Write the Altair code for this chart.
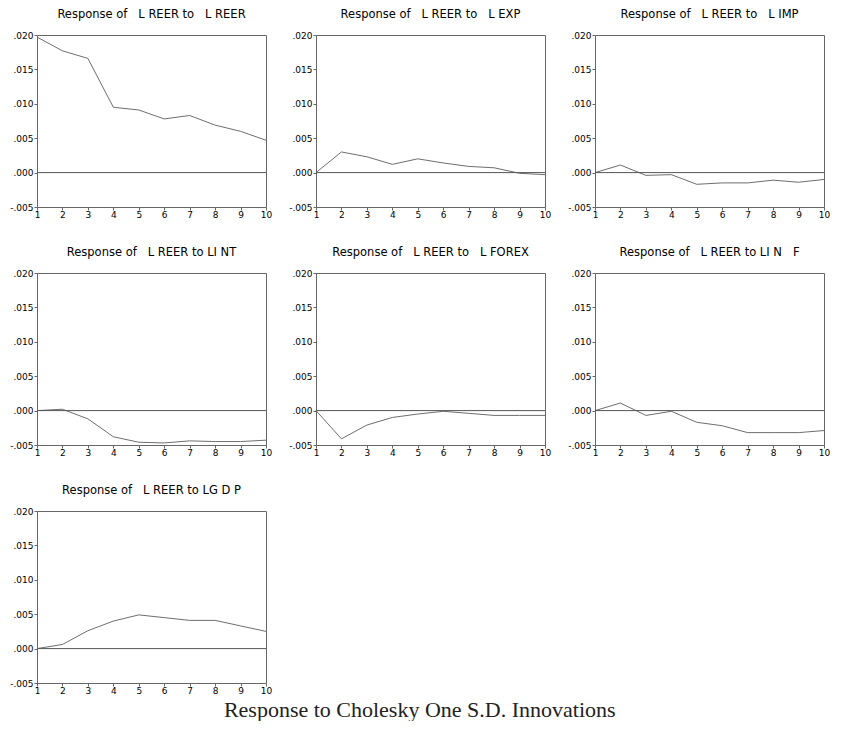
import altair as alt
import pandas as pd

PERIODS = [1, 2, 3, 4, 5, 6, 7, 8, 9, 10]

TITLES = [
    "Response of\u00a0\u00a0 L REER to\u00a0\u00a0 L REER",
    "Response of\u00a0\u00a0 L REER to\u00a0\u00a0 L EXP",
    "Response of\u00a0\u00a0 L REER to\u00a0\u00a0 L IMP",
    "Response of\u00a0\u00a0 L REER to LI NT",
    "Response of\u00a0\u00a0 L REER to\u00a0\u00a0 L FOREX",
    "Response of\u00a0\u00a0 L REER to LI N\u00a0\u00a0 F",
    "Response of\u00a0\u00a0 L REER to LG D P",
]

resp_lreer = [0.0197, 0.0177, 0.0166, 0.0095, 0.0091, 0.0078, 0.0083, 0.0069, 0.0060, 0.0047]
resp_lexp = [0.0, 0.0030, 0.0023, 0.0012, 0.0020, 0.0014, 0.0009, 0.0007, -0.0001, -0.0003]
resp_limp = [0.0, 0.0011, -0.0004, -0.0003, -0.0017, -0.0015, -0.0015, -0.0011, -0.0014, -0.0010]
resp_lint = [0.0, 0.0002, -0.0012, -0.0038, -0.0046, -0.0047, -0.0044, -0.0045, -0.0045, -0.0043]
resp_lforex = [0.0, -0.0041, -0.0021, -0.0010, -0.0005, -0.0001, -0.0004, -0.0007, -0.0007, -0.0007]
resp_linf = [0.0, 0.0011, -0.0007, -0.0001, -0.0017, -0.0022, -0.0032, -0.0032, -0.0032, -0.0029]
resp_lgdp = [0.0, 0.0006, 0.0026, 0.0040, 0.0049, 0.0045, 0.0041, 0.0041, 0.0033, 0.0025]

SERIES = [resp_lreer, resp_lexp, resp_limp, resp_lint, resp_lforex, resp_linf, resp_lgdp]

Y_TICKS = [-0.005, 0.0, 0.005, 0.010, 0.015, 0.020]
ZERO = [0.0]

W, H = 229, 172

Y_LABEL = "(datum.value < 0 ? '-' : '') + substring(format(abs(datum.value), '.3f'), 1)"


def y_axis():
    return alt.Axis(
        values=Y_TICKS,
        title=None,
        labelOverlap=False,
        labelFlush=False,
        labelExpr=Y_LABEL,
    )


def y_scale():
    return alt.Scale(domain=[-0.005, 0.020], nice=False, zero=False)


def panel(title, values):
    df = pd.DataFrame({"period": PERIODS, "response": values})
    x = alt.X(
        "period:Q",
        scale=alt.Scale(domain=[1, 10], nice=False, zero=False),
        axis=alt.Axis(values=PERIODS, format="d", title=None, labelOverlap=False),
    )
    line = (
        alt.Chart(df)
        .mark_line(color="#6e6e6e", strokeWidth=1)
        .encode(x=x, y=alt.Y("response:Q", scale=y_scale(), axis=y_axis()))
    )
    zero = (
        alt.Chart(pd.DataFrame({"zero": ZERO}))
        .mark_rule(color="#555555", strokeWidth=1)
        .encode(y=alt.Y("zero:Q", scale=y_scale(), axis=y_axis()))
    )
    return alt.layer(line, zero).properties(
        width=W,
        height=H,
        title=alt.TitleParams(
            text=title,
            font="DejaVu Sans",
            fontSize=11.5,
            fontWeight="normal",
            color="black",
            offset=11,
        ),
    )


panels = [panel(t, v) for t, v in zip(TITLES, SERIES)]

chart = (
    alt.concat(*panels, columns=3, spacing={"row": 66, "column": 50}, bounds="flush")
    .properties(
        padding={"left": 1, "top": 0, "right": 0, "bottom": 0},
        title=alt.TitleParams(
            text="Response to Cholesky One S.D. Innovations",
            orient="bottom",
            anchor="middle",
            font="Liberation Serif",
            fontSize=22,
            fontWeight="normal",
            color="#222222",
            offset=4,
        ),
    )
    .configure_view(stroke="#666666", strokeWidth=1)
    .configure_axis(
        domain=False,
        grid=False,
        ticks=True,
        tickColor="#666666",
        tickSize=3,
        labelFont="DejaVu Sans",
        labelFontSize=9,
        labelColor="black",
        labelPadding=1,
        labelOverlap=False,
        labelFlush=False,
    )
    .configure_axisX(labelPadding=0)
)

chart.save("out.html", embed_options={"renderer": "svg", "actions": False})
